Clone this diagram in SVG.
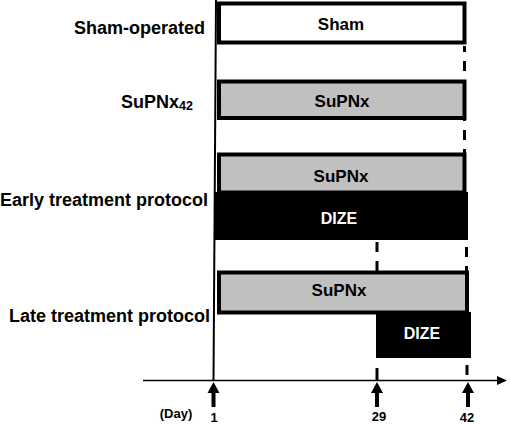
<svg xmlns="http://www.w3.org/2000/svg" width="510" height="426" viewBox="0 0 510 426">
<style>
text{font-family:"Liberation Sans",Arial,sans-serif;font-weight:bold;fill:#000}
.lab{font-size:18px;text-anchor:end}
.in{font-size:17px;text-anchor:middle}
.dz{font-size:16px;text-anchor:middle;fill:#fff}
.ax{font-size:13px;text-anchor:middle}
.box{stroke:#000;stroke-width:4}
.dash{stroke:#000;stroke-width:3;fill:none;stroke-dasharray:10 9}
.up{fill:#000}
</style>
<defs>
<path id="uparrow" d="M0,0 L6,11 L2,11 L2,25 L-2,25 L-2,11 L-6,11 Z"/>
</defs>
<g id="connectors">
<line x1="216" y1="0" x2="213.5" y2="381" stroke="#000" stroke-width="2"/>
<line x1="464.5" y1="46" x2="464.5" y2="80" class="dash" stroke-dashoffset="4"/>
<line x1="464.5" y1="120" x2="464.5" y2="153" class="dash" stroke-dashoffset="-10"/>
<line x1="377" y1="242" x2="377" y2="271" class="dash" stroke-dasharray="10 9"/>
<line x1="466.5" y1="247" x2="466.5" y2="271" class="dash"/>
<line x1="377" y1="368" x2="377" y2="380" stroke="#000" stroke-width="3"/>
<line x1="467" y1="365" x2="467" y2="375" stroke="#000" stroke-width="3"/>
<line x1="143" y1="380.5" x2="500" y2="380.5" stroke="#000" stroke-width="1.5"/>
<path d="M507,380.5 L497,376 L497,385 Z" fill="#000"/>
<use href="#uparrow" x="213.5" y="382" class="up"/>
<use href="#uparrow" x="377" y="382" class="up"/>
<use href="#uparrow" x="468" y="382" class="up"/>
</g>
<g id="sham">
<text class="lab" x="205" y="34">Sham-operated</text>
<rect class="box" x="219" y="3.5" width="245.5" height="39" fill="#fff"/>
<text class="in" x="341" y="30">Sham</text>
</g>
<g id="supnx42">
<text class="lab" x="193" y="108">SuPNx<tspan font-size="12.5" dy="2">42</tspan></text>
<rect class="box" x="219" y="81.5" width="245.5" height="36.5" fill="#c0c0c0"/>
<text class="in" x="342" y="107">SuPNx</text>
</g>
<g id="early">
<text class="lab" x="208" y="206">Early treatment protocol</text>
<rect x="215" y="192" width="253" height="48" fill="#000"/>
<rect class="box" x="219" y="154.5" width="245.5" height="38" fill="#c0c0c0"/>
<text class="in" x="341" y="182">SuPNx</text>
<text class="dz" x="339" y="224">DIZE</text>
</g>
<g id="late">
<text class="lab" x="210" y="322">Late treatment protocol</text>
<rect x="376" y="312" width="95" height="46" fill="#000"/>
<rect class="box" x="219" y="272.5" width="248" height="40" fill="#c0c0c0"/>
<text class="in" x="339" y="296">SuPNx</text>
<text class="dz" x="422" y="339">DIZE</text>
</g>
<g id="axis-labels">
<text class="ax" x="176" y="418">(Day)</text>
<text class="ax" x="214" y="422">1</text>
<text class="ax" x="379" y="421">29</text>
<text class="ax" x="467" y="422">42</text>
</g>
</svg>
